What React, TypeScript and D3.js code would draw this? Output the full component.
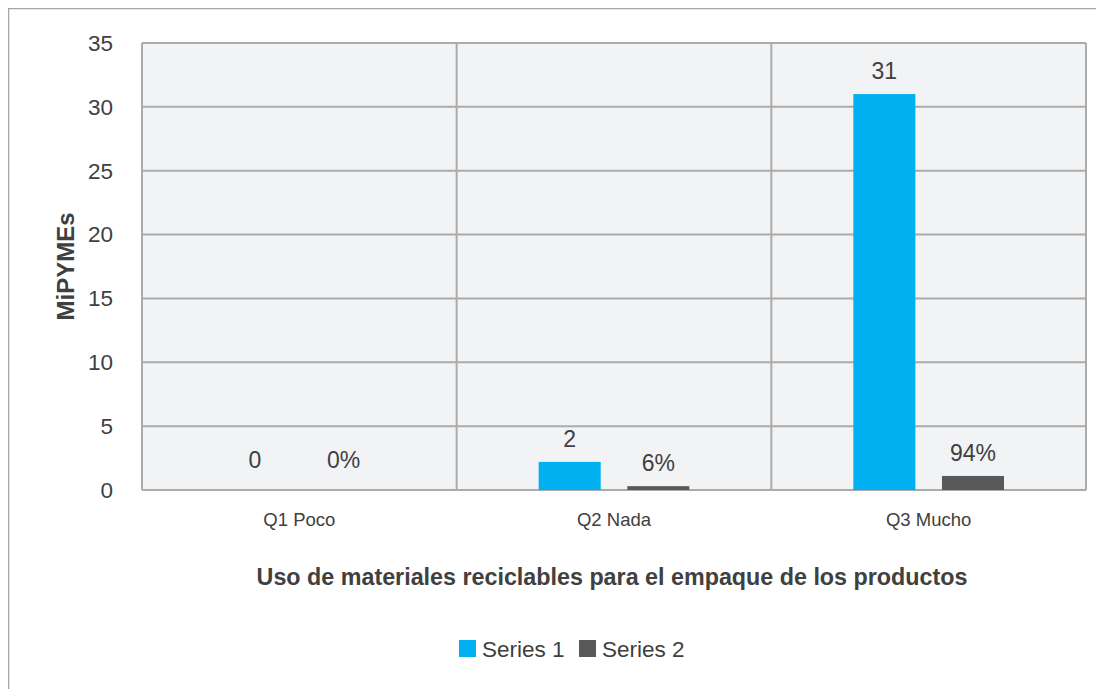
import React from "react";
import * as d3 from "d3";

const categories = ["Q1 Poco", "Q2 Nada", "Q3 Mucho"];
const series1 = [0, 2.2, 31];
const series1Labels = ["0", "2", "31"];
const series2 = [0, 0.3, 1.1];
const series2Labels = ["0%", "6%", "94%"];
const yTicks = [0, 5, 10, 15, 20, 25, 30, 35];
const seriesNames = ["Series 1", "Series 2"];
const colors = ["#00B0F0", "#58595B"];

const W = 1096;
const H = 681;
// offsets relative to svg (svg at page 8,8)
const plotLeft = 134;
const plotRight = 1078;
const plotTop = 35;
const plotBottom = 482;

export default function App() {
  const x = d3.scaleBand<string>().domain(categories).range([plotLeft, plotRight]).paddingInner(0).paddingOuter(0);
  const y = d3.scaleLinear().domain([0, 35]).range([plotBottom, plotTop]);
  const inner = d3.scaleBand<string>().domain(seriesNames).range([82, x.bandwidth() - 82]).paddingInner(0.3);
  const font = "'Liberation Sans', Arial, sans-serif";
  const textColor = "#404040";
  const all = [series1, series2];
  const labels = [series1Labels, series2Labels];
  return (
    <svg width={W} height={H} style={{ display: "block", fontFamily: font }}>
      <rect x={0.5} y={0.5} width={W + 20} height={H + 20} fill="#fff" stroke="#A6A6A6" strokeWidth={1.5} />
      <rect x={plotLeft} y={plotTop} width={plotRight - plotLeft} height={plotBottom - plotTop} fill="#F2F3F5" />
      {yTicks.map((t) => (
        <line key={t} x1={plotLeft} x2={plotRight} y1={y(t)} y2={y(t)} stroke="#ABABAB" strokeWidth={2} />
      ))}
      {categories.map((c) => (
        <line key={c} x1={x(c)!} x2={x(c)!} y1={plotTop} y2={plotBottom} stroke="#ABABAB" strokeWidth={2} />
      ))}
      <line x1={plotRight} x2={plotRight} y1={plotTop} y2={plotBottom} stroke="#ABABAB" strokeWidth={2} />
      {yTicks.map((t) => (
        <text key={t} x={plotLeft - 29} y={y(t)} dy="0.35em" textAnchor="end" fontSize={22.5} fill={textColor}>
          {t}
        </text>
      ))}
      {categories.map((c, i) =>
        all.map((s, k) => {
          const bx = x(c)! + inner(seriesNames[k])!;
          const bw = inner.bandwidth();
          const off = s[i] === 0 ? 30 : 23;
          return (
            <g key={c + k}>
              <rect x={bx} y={y(s[i])} width={bw} height={plotBottom - y(s[i])} fill={colors[k]} />
              <text x={bx + bw / 2} y={y(s[i]) - off} dy="0.35em" textAnchor="middle" fontSize={23} fill={textColor}>
                {labels[k][i]}
              </text>
            </g>
          );
        })
      )}
      {categories.map((c) => (
        <text key={c} x={x(c)! + x.bandwidth() / 2} y={512} dy="0.35em" textAnchor="middle" fontSize={18.5} fill={textColor}>
          {c}
        </text>
      ))}
      <text x={604} y={569} dy="0.35em" textAnchor="middle" fontSize={23.3} fontWeight="bold" fill={textColor}>
        Uso de materiales reciclables para el empaque de los productos
      </text>
      <text transform={`translate(58,${(plotTop + plotBottom) / 2}) rotate(-90)`} dy="0.35em" textAnchor="middle" fontSize={24} fontWeight="bold" fill={textColor}>
        MiPYMEs
      </text>
      {seriesNames.map((n, k) => {
        const lx = [451, 571][k];
        return (
          <g key={n}>
            <rect x={lx} y={632} width={17} height={17} fill={colors[k]} />
            <text x={lx + 23} y={641} dy="0.35em" fontSize={22.5} fill={textColor}>
              {n}
            </text>
          </g>
        );
      })}
    </svg>
  );
}
